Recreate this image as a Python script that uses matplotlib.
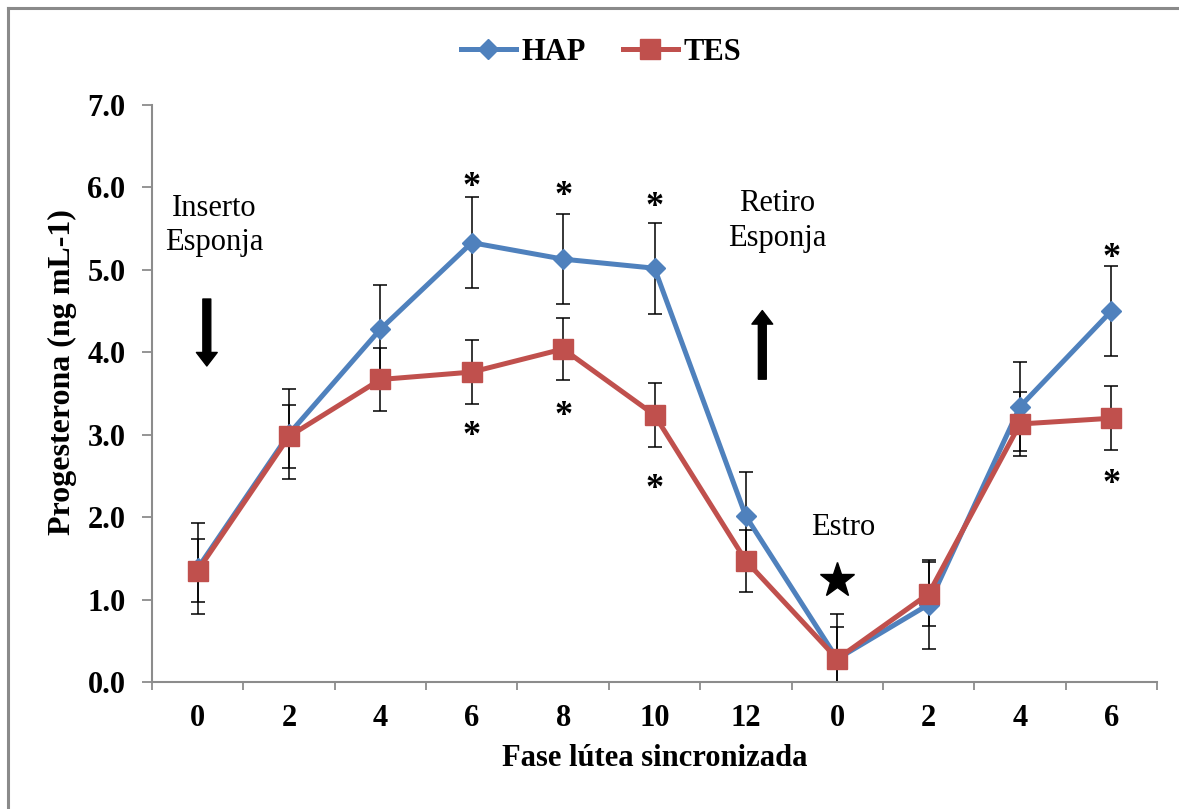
import matplotlib
matplotlib.use("Agg")
import matplotlib.pyplot as plt
from matplotlib.lines import Line2D
from matplotlib.patches import FancyArrowPatch
import numpy as np

plt.rcParams['font.family'] = ['Liberation Serif', 'DejaVu Serif']

# ---- data ----
x_labels = ['0', '2', '4', '6', '8', '10', '12', '0', '2', '4', '6']
hap = [1.38, 3.01, 4.28, 5.33, 5.13, 5.02, 2.01, 0.28, 0.94, 3.34, 4.50]
hap_err = [0.55, 0.55, 0.54, 0.55, 0.55, 0.55, 0.54, 0.55, 0.54, 0.54, 0.55]
tes = [1.35, 2.98, 3.67, 3.76, 4.04, 3.24, 1.47, 0.28, 1.07, 3.13, 3.20]
tes_err = [0.38, 0.38, 0.38, 0.39, 0.38, 0.39, 0.38, 0.39, 0.39, 0.39, 0.39]

sig_idx = [3, 4, 5, 10]
sig_hap_y = [6.14, 6.03, 5.89, 5.28]
sig_tes_y = [3.12, 3.36, 2.47, 2.53]

y_ticks = [0.0, 1.0, 2.0, 3.0, 4.0, 5.0, 6.0, 7.0]

HAP_C = '#4F81BD'
TES_C = '#C0504D'
GRID_C = '#8C8C8C'

fig = plt.figure(figsize=(11.79, 8.09), dpi=100)
W, H = 1179, 809
ax = fig.add_axes([152 / W, 1 - 682 / H, (1157 - 152) / W, (682 - 105) / H])

x = np.arange(len(x_labels))

ax.errorbar(x, hap, yerr=hap_err, fmt='none', ecolor='black', elinewidth=1.1,
            capsize=5, capthick=1.1, zorder=2)
ax.errorbar(x, tes, yerr=tes_err, fmt='none', ecolor='black', elinewidth=1.1,
            capsize=5, capthick=1.1, zorder=2)
ax.plot(x, hap, color=HAP_C, lw=3.6, marker='D', ms=10.5, mfc=HAP_C, mec=HAP_C,
        label='HAP', zorder=3, solid_joinstyle='round')
ax.plot(x, tes, color=TES_C, lw=3.6, marker='s', ms=15, mfc=TES_C, mec=TES_C,
        label='TES', zorder=4, solid_joinstyle='round')

ax.set_xlim(-0.5, len(x_labels) - 0.5)
ax.set_ylim(0, 7)
ax.set_yticks(y_ticks)
ax.set_yticklabels([f'{v:.1f}' for v in y_ticks], fontsize=22, fontweight='bold')
ax.set_xticks(x)
ax.set_xticklabels(x_labels, fontsize=22, fontweight='bold')
ax.set_xticks(np.arange(-0.5, len(x_labels), 1.0), minor=True)
ax.tick_params(axis='x', which='major', length=0, pad=16)
ax.tick_params(axis='x', which='minor', length=6, color=GRID_C, width=1.3, direction='out')
ax.tick_params(axis='y', which='major', length=7, color=GRID_C, width=1.3, direction='out', pad=12)

for s in ['top', 'right']:
    ax.spines[s].set_visible(False)
for s in ['left', 'bottom']:
    ax.spines[s].set_color(GRID_C)
    ax.spines[s].set_linewidth(1.5)

ax.set_xlabel('Fase lútea sincronizada', fontsize=22, fontweight='bold', labelpad=8)
ax.set_ylabel('Progesterona (ng mL-1)', fontsize=23, fontweight='bold')
ax.yaxis.set_label_coords((77 - 152) / 1005, (682 - 372) / 577)

# significance asterisks
fs_ast = 26
for i, yh, yt in zip(sig_idx, sig_hap_y, sig_tes_y):
    for yy in (yh, yt):
        ax.annotate('*', (x[i], yy), xytext=(0, -0.55 * fs_ast), textcoords='offset points',
                    ha='center', va='baseline', fontsize=fs_ast, fontweight='bold', zorder=5)

# annotations
ax.text(0.18, 5.54, 'Inserto\nEsponja', ha='center', va='center', fontsize=22, linespacing=1.25)
ax.text(6.34, 5.59, 'Retiro\nEsponja', ha='center', va='center', fontsize=22, linespacing=1.25)
ax.text(7.06, 1.88, 'Estro', ha='center', va='center', fontsize=22)
ax.plot([7.0], [1.24], marker='*', ms=26, color='black', mec='black', zorder=6, clip_on=False)

style = 'simple,head_length=0.65,head_width=1.0,tail_width=0.38'
ax.add_patch(FancyArrowPatch((0.10, 4.68), (0.10, 3.80), arrowstyle=style,
                             mutation_scale=15, color='black', zorder=5))
ax.add_patch(FancyArrowPatch((6.18, 3.64), (6.18, 4.54), arrowstyle=style,
                             mutation_scale=15, color='black', zorder=5))

# legend
leg = fig.legend(loc='center', bbox_to_anchor=(601 / W, 1 - 52 / H), ncol=2, frameon=False,
                 prop={'size': 22, 'weight': 'bold'}, handlelength=1.8, handletextpad=0.2,
                 columnspacing=1.2)

# outer frame (top and left visible)
fig.add_artist(Line2D([8 / W, 1.0], [1 - 8 / H, 1 - 8 / H], transform=fig.transFigure,
                      color='#8A8A8A', lw=2.2))
fig.add_artist(Line2D([8 / W, 8 / W], [0.0, 1 - 8 / H], transform=fig.transFigure,
                      color='#8A8A8A', lw=2.2))

fig.savefig('out.png', dpi=100)
